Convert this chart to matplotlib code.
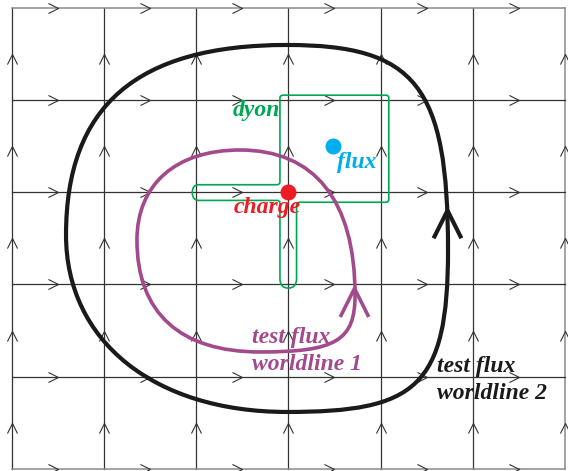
import numpy as np
import matplotlib
matplotlib.use("Agg")
import matplotlib.pyplot as plt
from matplotlib.path import Path
from matplotlib.patches import PathPatch

# lattice (grid units)
grid_x = [0, 1, 2, 3, 4, 5, 6]
grid_y = [0, 1, 2, 3, 4, 5]

# test flux worldline 2 (black): node, ctrl, ctrl, node, ... (cubic beziers)
wl2_x = [2.987, 4.383, 4.732, 4.732, 4.732, 4.383, 2.987, 1.549, 0.591, 0.591, 0.591, 1.357, 2.987]
wl2_y = [0.406, 0.406, 0.850, 2.627, 4.119, 4.382, 4.382, 4.382, 3.615, 2.465, 1.065, 0.406, 0.406]
wl2_arrow = (4.72, 2.19)

# test flux worldline 1 (purple)
wl1_x = [2.477, 1.784, 1.360, 1.360, 1.360, 1.827, 2.694, 3.518, 3.724, 3.724, 3.724, 3.287, 2.477]
wl1_y = [1.544, 1.544, 1.914, 2.519, 3.308, 3.732, 3.732, 3.732, 3.609, 3.115, 2.094, 1.544, 1.544]
wl1_arrow = (3.71, 3.04)

# dyon loop (green), control polygon
dyon_x = [2.91, 2.91, 2.98, 4.03, 4.09, 4.09, 4.09, 4.09, 4.03, 3.16, 3.09, 3.09, 3.09, 3.09, 2.91, 2.91,
          2.91, 2.91, 2.85, 2.10, 1.96, 1.96, 2.10, 2.85, 2.91, 2.91]
dyon_y = [1.01, 0.95, 0.95, 0.95, 0.95, 1.01, 2.04, 2.11, 2.11, 2.11, 2.11, 2.17, 2.84, 3.04, 3.04, 2.84,
          2.15, 2.09, 2.09, 2.09, 2.09, 1.92, 1.92, 1.92, 1.92, 1.86]

charge_pos = (3.00, 2.00)
flux_pos = (3.485, 1.50)

C_BLACK = "#1a1a1a"
C_PURPLE = "#a24a8c"
C_GREEN = "#00a651"
C_RED = "#ed1c24"
C_CYAN = "#00aeef"


def smooth_loop(xs, ys):
    # quadratic b-spline through edge midpoints (control polygon)
    pts = np.column_stack([xs, ys])
    mids = (pts + np.roll(pts, -1, axis=0)) / 2
    verts = [mids[-1]]
    codes = [Path.MOVETO]
    for p, m in zip(pts, mids):
        verts += [p, m]
        codes += [Path.CURVE3, Path.CURVE3]
    return Path(verts, codes)


def bezier_loop(xs, ys):
    verts = np.column_stack([xs, ys])
    codes = [Path.MOVETO] + [Path.CURVE4] * (len(verts) - 1)
    return Path(verts, codes)


chev_right = Path([(-1, 0.5), (0, 0), (-1, -0.5)], [Path.MOVETO, Path.LINETO, Path.LINETO])
chev_up = Path([(-0.5, -1), (0, 0), (0.5, -1)], [Path.MOVETO, Path.LINETO, Path.LINETO])

fig = plt.figure(figsize=(5.68, 4.71), dpi=100)
ax = fig.add_axes([0, 0, 1, 1])
ax.set_xlim(-0.1247, 6.0325)
ax.set_ylim(5.0217, -0.0813)
ax.axis("off")

# grid lines
for x in grid_x:
    edge = x == grid_x[-1]
    ax.plot([x, x], [grid_y[0], grid_y[-1]], color="#8a8a8a" if edge else "#333333",
            lw=1.1 if edge else 0.9, zorder=1)
for y in grid_y:
    edge = y in (grid_y[0], grid_y[-1])
    ax.plot([grid_x[0], grid_x[-1]], [y, y], color="#8a8a8a" if edge else "#333333",
            lw=1.1 if edge else 0.9, zorder=1)

# link arrows
hx = [x + 0.5 for x in grid_x[:-1] for y in grid_y]
hy = [y for x in grid_x[:-1] for y in grid_y]
ax.plot(hx, hy, ls="none", marker=chev_right, ms=14.5, mfc="none", mec="#333333", mew=0.8, zorder=2)
vx = [x for x in grid_x for y in grid_y[:-1]]
vy = [y + 0.5 for x in grid_x for y in grid_y[:-1]]
ax.plot(vx, vy, ls="none", marker=chev_up, ms=14.5, mfc="none", mec="#333333", mew=0.8, zorder=2)

# dyon
ax.add_patch(PathPatch(smooth_loop(dyon_x, dyon_y), fc="none", ec=C_GREEN, lw=1.2, zorder=3))

# worldlines
ax.add_patch(PathPatch(bezier_loop(wl1_x, wl1_y), fc="none", ec=C_PURPLE, lw=2.6, zorder=4))
ax.plot(*wl1_arrow, marker=chev_up, ms=41, mfc="none", mec=C_PURPLE, mew=2.6, zorder=4)
ax.add_patch(PathPatch(bezier_loop(wl2_x, wl2_y), fc="none", ec=C_BLACK, lw=3.0, zorder=4))
ax.plot(*wl2_arrow, marker=chev_up, ms=40, mfc="none", mec=C_BLACK, mew=3.0, zorder=4)

# charges
ax.plot(*charge_pos, "o", ms=10.5, color=C_RED, zorder=5)
ax.plot(*flux_pos, "o", ms=10.5, color=C_CYAN, zorder=5)

font = dict(family="Liberation Serif", weight="bold", style="italic", fontsize=17, zorder=6)
ax.text(2.91, 1.175, "dyon", color=C_GREEN, ha="right", va="baseline", **font)
ax.text(3.53, 1.74, "flux", color=C_CYAN, ha="left", va="baseline", **font)
ax.text(2.77, 2.23, "charge", color=C_RED, ha="center", va="baseline", **font)
ax.text(2.61, 3.635, "test flux", color=C_PURPLE, ha="left", va="baseline", **font)
ax.text(2.61, 3.93, "worldline 1", color=C_PURPLE, ha="left", va="baseline", **font)
ax.text(4.61, 3.95, "test flux", color=C_BLACK, ha="left", va="baseline", **font)
ax.text(4.61, 4.24, "worldline 2", color=C_BLACK, ha="left", va="baseline", **font)

fig.savefig("out.png", dpi=100)
